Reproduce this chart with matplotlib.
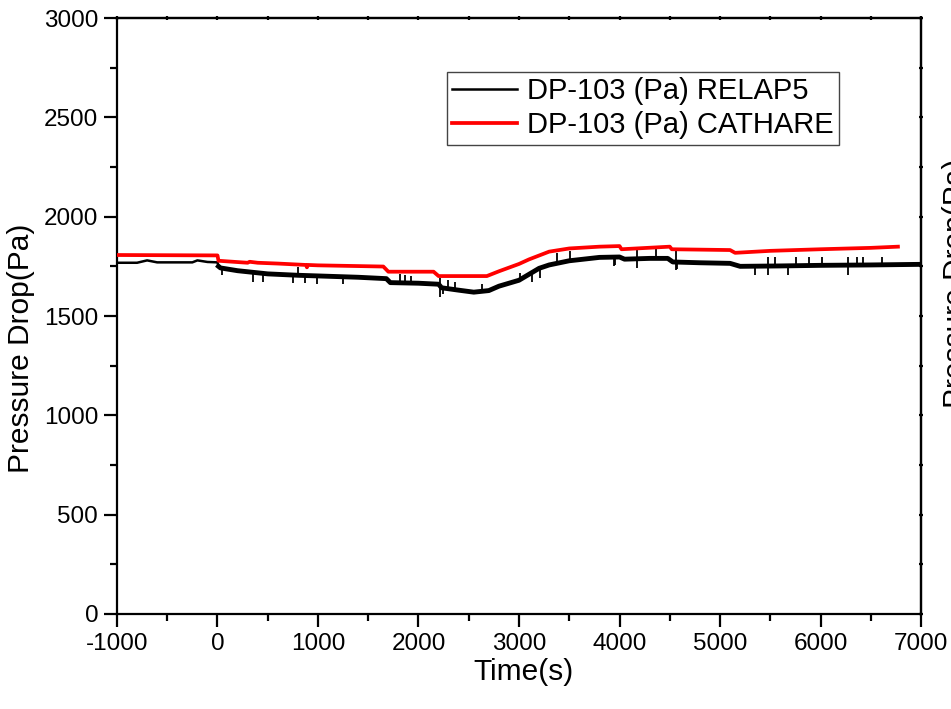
import numpy as np
import matplotlib.pyplot as plt
from matplotlib.ticker import MultipleLocator

plt.rcParams['font.family'] = ['Liberation Sans', 'DejaVu Sans']
plt.rcParams['axes.unicode_minus'] = False

# RELAP5 curve
relap_t = [-1000, -800, -700, -600, -250, -200, -100, 0, 10, 30, 200, 500, 800, 1100,
           1400, 1680, 1720, 2000, 2200, 2230, 2400, 2550, 2700, 2800, 3000, 3200,
           3300, 3500, 3800, 4000, 4050, 4300, 4480, 4530, 4800, 5100, 5200, 5600,
           6000, 6500, 7000]
relap_v = [1768, 1768, 1780, 1770, 1770, 1780, 1772, 1770, 1750, 1742, 1728, 1712, 1705,
           1700, 1695, 1688, 1668, 1665, 1660, 1642, 1630, 1620, 1628, 1650, 1680, 1740,
           1757, 1778, 1795, 1797, 1786, 1790, 1790, 1772, 1768, 1765, 1750, 1752,
           1755, 1757, 1760]

# needle-like spikes on the RELAP5 curve: time, low end, high end
spike_t = [42, 353, 453, 751, 867, 990, 1249, 2214, 2240, 3126, 3209, 3945, 3960, 4171,
           4562, 4575, 5348, 5474, 5680, 6270,
           801, 1816, 1866, 1930, 2214, 2290, 2360, 2628, 3010, 3375, 3507, 4171, 4363,
           4562, 5474, 5547, 5760, 5887, 6015, 6270, 6360, 6420, 6612]
spike_lo = [1706, 1673, 1673, 1666, 1666, 1660, 1660, 1597, 1610, 1673, 1690, 1752, 1755,
            1740, 1730, 1735, 1706, 1706, 1706, 1706,
            1705, 1665, 1665, 1665, 1660, 1640, 1635, 1620, 1680, 1765, 1780, 1788, 1790,
            1775, 1752, 1752, 1752, 1753, 1753, 1755, 1755, 1755, 1757]
spike_hi = [1742, 1725, 1720, 1710, 1707, 1705, 1700, 1660, 1645, 1725, 1735, 1797, 1797,
            1788, 1775, 1775, 1752, 1752, 1752, 1755,
            1748, 1710, 1705, 1700, 1690, 1680, 1670, 1660, 1715, 1817, 1825, 1840, 1840,
            1835, 1795, 1795, 1795, 1795, 1795, 1795, 1797, 1797, 1797]

# CATHARE curve
cathare_t = [-1000, 0, 10, 300, 320, 400, 600, 880, 890, 900, 1000, 1650, 1700, 2150,
             2200, 2680, 2800, 3000, 3100, 3300, 3500, 3800, 4000, 4020, 4500, 4520,
             5100, 5150, 5500, 6000, 6500, 6770]
cathare_v = [1807, 1805, 1778, 1768, 1773, 1768, 1764, 1757, 1745, 1757, 1755, 1749, 1723,
             1723, 1701, 1701, 1725, 1762, 1785, 1824, 1840, 1849, 1852, 1836, 1849, 1836,
             1832, 1818, 1828, 1836, 1843, 1849]

fig = plt.figure(figsize=(9.51, 7.09), dpi=100)
ax = fig.add_axes([0.123, 0.134, 0.8455, 0.8406])

rt = np.array(relap_t)
rv = np.array(relap_v)
ax.plot(rt, rv, color='black', lw=1.8, label='DP-103 (Pa) RELAP5', zorder=3)
m = rt >= 10
ax.plot(rt[m], rv[m], color='black', lw=3.5, zorder=3)
ax.vlines(spike_t, spike_lo, spike_hi, color='black', lw=1.3, zorder=3)
ax.plot(cathare_t, cathare_v, color='#ff0000', lw=2.7, label='DP-103 (Pa) CATHARE', zorder=4)

ax.set_xlim(-1000, 7000)
ax.set_ylim(0, 3000)
ax.xaxis.set_major_locator(MultipleLocator(1000))
ax.xaxis.set_minor_locator(MultipleLocator(500))
ax.yaxis.set_major_locator(MultipleLocator(500))
ax.yaxis.set_minor_locator(MultipleLocator(250))

for s in ax.spines.values():
    s.set_linewidth(1.6)
ax.tick_params(which='major', direction='out', length=9.5, width=1.6, labelsize=17.5, pad=4)
ax.tick_params(which='minor', direction='out', length=5, width=1.6)

# tiny ticks on the top and right spines
top = ax.secondary_xaxis('top')
top.xaxis.set_major_locator(MultipleLocator(500))
top.tick_params(direction='inout', length=3, width=1.6, labeltop=False)
right = ax.secondary_yaxis('right')
right.yaxis.set_major_locator(MultipleLocator(250))
right.tick_params(direction='inout', length=3, width=1.6, labelright=False)
for sec in (top, right):
    for s in sec.spines.values():
        s.set_linewidth(1.6)

ax.set_xlabel('Time(s)', fontsize=21.5)
ax.set_ylabel('Pressure Drop(Pa)', fontsize=21.5)
ax.xaxis.set_label_coords(0.506, -0.073)
ax.yaxis.set_label_coords(-0.102, 0.445)

leg = ax.legend(loc='upper left', bbox_to_anchor=(0.41, 0.91), fontsize=21,
                frameon=True, fancybox=False, framealpha=1, edgecolor='#444444',
                handlelength=2.2, handletextpad=0.35, borderpad=0.2,
                labelspacing=0.2, borderaxespad=0)
leg.get_frame().set_linewidth(1.0)

# clipped label of a right-hand axis at the figure edge
fig.text(0.9905, 0.60, 'Pressure Drop(Pa)', rotation=90, fontsize=21.5,
         ha='left', va='center')

fig.savefig('out.png', dpi=100)
